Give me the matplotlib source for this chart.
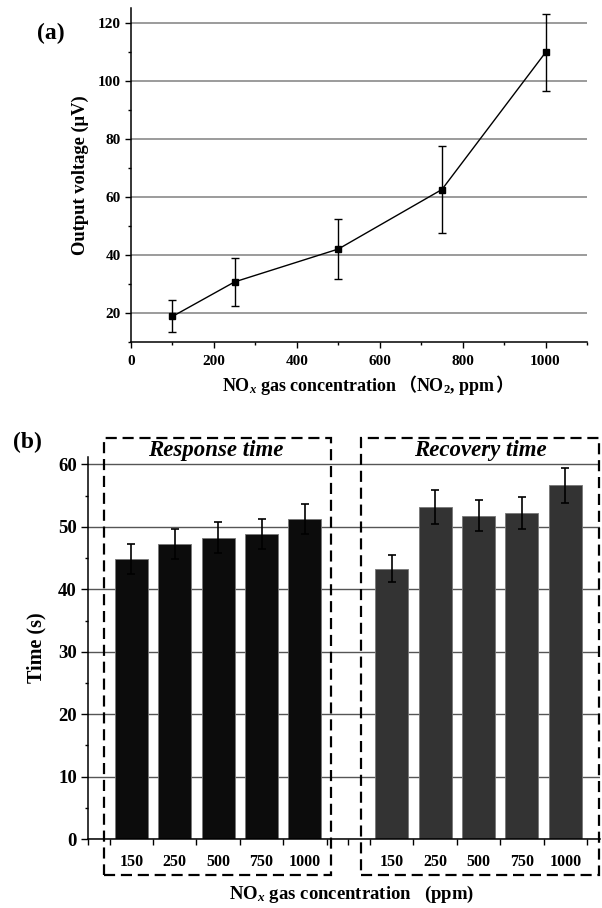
import numpy as np
import matplotlib
matplotlib.use("Agg")
from matplotlib import pyplot as plt
from matplotlib.patches import Rectangle
from matplotlib.ticker import MultipleLocator

plt.rcParams["font.family"] = "Liberation Serif"
plt.rcParams["font.weight"] = "bold"
plt.rcParams["mathtext.fontset"] = "custom"
plt.rcParams["mathtext.rm"] = "Liberation Serif:bold"
plt.rcParams["mathtext.it"] = "Liberation Serif:italic:bold"
plt.rcParams["mathtext.bf"] = "Liberation Serif:bold"

# (a) output voltage vs concentration
conc = [100, 250, 500, 750, 1000]
voltage = [18.8, 30.7, 42.0, 62.5, 109.7]
voltage_err = [5.5, 8.3, 10.3, 15.0, 13.4]

# (b) response / recovery time
b_labels = ["150", "250", "500", "750", "1000"]
response = [44.8, 47.3, 48.3, 48.8, 51.3]
response_err = [2.4, 2.4, 2.5, 2.4, 2.4]
recovery = [43.3, 53.2, 51.8, 52.2, 56.7]
recovery_err = [2.15, 2.7, 2.5, 2.6, 2.8]

W, H = 602, 908
fig = plt.figure(figsize=(W / 100, H / 100), dpi=100)


def px_axes(left, top, right, bottom):
    return fig.add_axes([left / W, 1 - bottom / H, (right - left) / W, (bottom - top) / H])


# ---------- panel (a) ----------
ax1 = px_axes(131, 8, 587, 342)
ax1.errorbar(conc, voltage, yerr=voltage_err, color="black", lw=1.0, marker="s",
             markersize=4.6, elinewidth=1.0, capsize=2.8, capthick=1.0, zorder=3)
ax1.set_xlim(0, 1100)
ax1.set_ylim(10, 125)
ax1.xaxis.set_major_locator(MultipleLocator(200))
ax1.xaxis.set_minor_locator(MultipleLocator(100))
ax1.set_yticks([20, 40, 60, 80, 100, 120])
ax1.yaxis.set_minor_locator(MultipleLocator(10))
ax1.grid(axis="y", color="#808080", lw=1.1)
ax1.set_axisbelow(True)
for s in ["top", "right"]:
    ax1.spines[s].set_visible(False)
ax1.spines["left"].set_linewidth(1.1)
ax1.spines["bottom"].set_linewidth(1.1)
ax1.tick_params(which="major", direction="out", length=4.5, width=1.0, labelsize=11)
ax1.tick_params(which="minor", direction="out", length=2.5, width=1.0)
ax1.tick_params(axis="x", pad=5)
ax1.tick_params(axis="y", pad=3)
ax1.set_ylabel("Output voltage (μV)", fontsize=13.3, fontweight="bold")
ax1.yaxis.set_label_coords(-0.093, 0.5)

# ---------- panel (b) ----------
ax2 = px_axes(88, 457, 600, 839)
pos_resp = np.arange(len(response))
pos_rec = np.arange(len(recovery)) + len(response) + 1
ax2.bar(pos_resp, response, width=0.76, color="#0c0c0c", edgecolor="#777777", lw=0.6, zorder=2)
ax2.bar(pos_rec, recovery, width=0.76, color="#333333", edgecolor="#777777", lw=0.6, zorder=2)
ax2.errorbar(pos_resp, response, yerr=response_err, fmt="none", ecolor="black",
             elinewidth=1.2, capsize=3, capthick=1.2, zorder=3)
ax2.errorbar(pos_rec, recovery, yerr=recovery_err, fmt="none", ecolor="black",
             elinewidth=1.2, capsize=3, capthick=1.2, zorder=3)
ax2.set_xlim(-1.0, 10.8)
ax2.set_ylim(0, 61.2)
ax2.set_xticks([-1.0] + list(pos_resp - 0.5) + [pos_resp[-1] + 0.5, 5.0]
               + list(pos_rec - 0.5) + [pos_rec[-1] + 0.5])
ax2.set_xticklabels([])
ax2.set_xticks(list(pos_resp) + list(pos_rec), b_labels + b_labels, minor=True)
ax2.tick_params(axis="x", which="minor", length=0, pad=11, labelsize=11.5)
ax2.tick_params(axis="x", which="major", direction="out", length=4.5, width=1.0)
ax2.set_yticks(np.arange(0, 61, 10))
ax2.yaxis.set_minor_locator(MultipleLocator(5))
ax2.tick_params(axis="y", which="major", direction="out", length=5, width=1.0, labelsize=13.5, pad=3)
ax2.tick_params(axis="y", which="minor", direction="out", length=2.5, width=1.0)
ax2.grid(axis="y", color="#555555", lw=1.0)
ax2.set_axisbelow(True)
for s in ["top", "right"]:
    ax2.spines[s].set_visible(False)
ax2.spines["left"].set_linewidth(1.1)
ax2.spines["bottom"].set_linewidth(1.1)
ax2.set_ylabel("Time (s)", fontsize=14.5, fontweight="bold")
ax2.yaxis.set_label_coords(-0.082, 0.5)

# dashed group boxes
for x0, x1 in [(pos_resp[0] - 0.62, pos_resp[-1] + 0.60), (pos_rec[0] - 0.71, pos_rec[-1] + 0.77)]:
    ax2.add_patch(Rectangle((x0, -5.8), x1 - x0, 70.1, fill=False, ec="black", lw=1.6,
                            ls=(0, (5, 2.6)), clip_on=False, zorder=5))
ax2.text(pos_resp.mean() - 0.05, 62.3, "Response time", ha="center", va="center",
         fontsize=16.5, fontweight="bold", style="italic")
ax2.text(pos_rec.mean() + 0.05, 62.3, "Recovery time", ha="center", va="center",
         fontsize=16.5, fontweight="bold", style="italic")

# panel letters
fig.text(51 / W, 1 - 33 / H, "(a)", fontsize=17, fontweight="bold", ha="center", va="center")
fig.text(27 / W, 1 - 442 / H, "(b)", fontsize=17, fontweight="bold", ha="center", va="center")

# x labels (built from pieces so the full-width brackets come from a CJK font)
renderer = fig.canvas.get_renderer()


def chained_text(x_center, y_base, pieces, size):
    texts, widths = [], []
    for s, fam in pieces:
        t = fig.text(0, y_base, s, family=fam, va="baseline", ha="left",
                     fontsize=size, fontweight="bold")
        texts.append(t)
        widths.append(t.get_window_extent(renderer).width / fig.bbox.width)
    x = x_center - sum(widths) / 2
    for t, w in zip(texts, widths):
        t.set_x(x)
        x += w


chained_text(368 / W, 1 - 391 / H,
             [("NO$_x$ gas concentration", "Liberation Serif"), ("（", "Noto Sans CJK SC"),
              ("NO$_2$, ppm", "Liberation Serif"), ("）", "Noto Sans CJK SC")], 13)
fig.text(352 / W, 1 - 899 / H, "NO$_x$ gas concentration   (ppm)", ha="center", va="baseline",
         fontsize=13.5, fontweight="bold")

fig.savefig("out.png", dpi=100)
